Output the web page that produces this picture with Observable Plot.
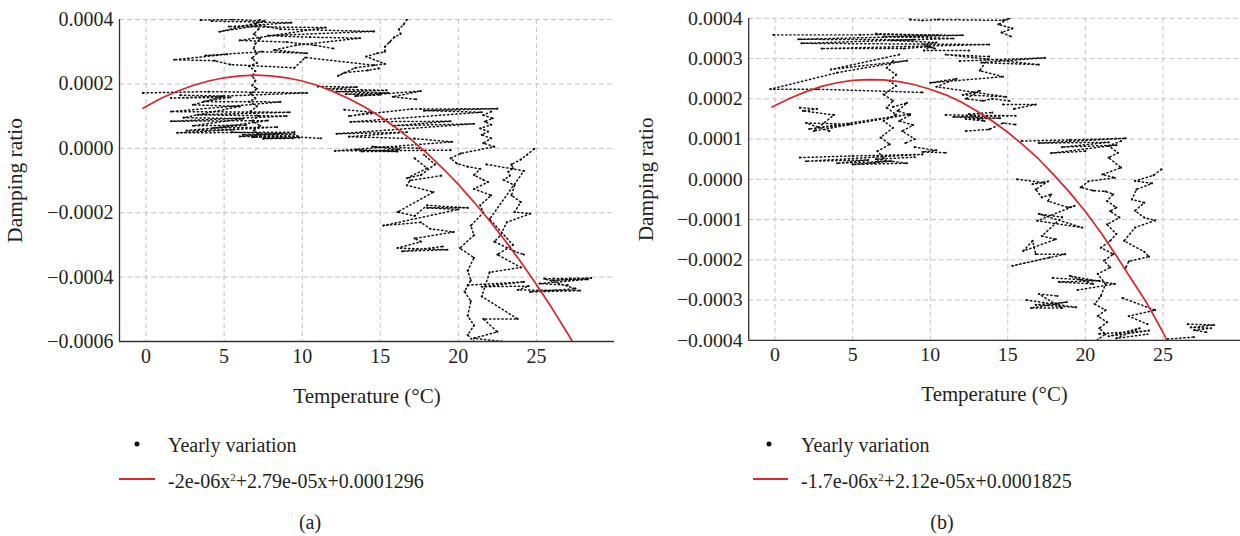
<!DOCTYPE html>
<html><head><meta charset="utf-8">
<script src="https://cdn.jsdelivr.net/npm/d3@7"></script>
<script src="https://cdn.jsdelivr.net/npm/@observablehq/plot@0.6"></script>
<style>
html,body{margin:0;padding:0;background:#fff;overflow:hidden;width:1240px;height:536px}
#wrap{position:relative;width:1240px;height:536px;font-family:"Liberation Serif","DejaVu Serif",serif;color:#231f20;overflow:hidden}
.panel{position:absolute;top:0}
.panel svg text{font-family:"Liberation Serif","DejaVu Serif",serif !important}
.leg{position:absolute;font-size:20px;white-space:nowrap;line-height:20px;transform:translateY(-50%)}
.leg sup{font-size:11px;vertical-align:7px;line-height:0}
.ldot{position:absolute;width:5px;height:5px;border-radius:50%;background:#111;transform:translate(-50%,-50%)}
.lline{position:absolute;height:2px;background:#e0262b;transform:translateY(-50%)}
.cap{position:absolute;font-size:20px;transform:translate(-50%,-50%);line-height:20px}
</style></head>
<body><div id="wrap">
<div id="pa" class="panel" style="left:0"></div>
<div id="pb" class="panel" style="left:620px"></div>
<div class="ldot" style="left:137px;top:444px"></div>
<div class="leg" style="left:168px;top:445px">Yearly variation</div>
<div class="lline" style="left:119px;top:479px;width:36px"></div>
<div class="leg" style="left:168px;top:481px">-2e-06x<sup>2</sup>+2.79e-05x+0.0001296</div>
<div class="cap" style="left:310px;top:522px">(a)</div>
<div class="ldot" style="left:769px;top:444px"></div>
<div class="leg" style="left:801px;top:445px">Yearly variation</div>
<div class="lline" style="left:753px;top:479px;width:35px"></div>
<div class="leg" style="left:801px;top:481px">-1.7e-06x<sup>2</sup>+2.12e-05x+0.0001825</div>
<div class="cap" style="left:942px;top:522px">(b)</div>
</div>
<script>
// ---- shared axis data ----
const xTicks = [0, 5, 10, 15, 20, 25];
const xDomain = [-1.7, 30];
// y values are in units of 1e-4 (damping ratio)
const aYTicks = [-6, -4, -2, 0, 2, 4];
const bYTicks = [-4, -3, -2, -1, 0, 1, 2, 3, 4];

// ---- panel (a): yearly variation traces [temperature °C, damping ratio ×1e-4] ----
const a1 = [[7.3,4.0],[7.0,3.85],[7.2,3.7],[6.9,3.55],[7.3,3.4],[7.0,3.25],[6.9,3.1],[7.1,2.95],[6.8,2.8],[7.1,2.65],[6.6,2.55],[7.0,2.4],[6.8,2.25],[7.0,2.1],[6.8,1.95],[7.1,1.85],[6.7,1.7],[7.0,1.55],[6.6,1.45],[7.1,1.3],[6.7,1.15],[7.2,1.0],[6.8,0.85],[7.3,0.7],[6.9,0.55],[7.2,0.45],[6.9,0.35]];
const a2 = [[3.5,3.98],[5.5,4.0],[7.6,3.95],[4.7,3.62],[7.3,3.82],[8.6,3.7],[14.6,3.63],[7.8,3.5],[10.5,3.45],[13.7,3.42],[9.6,3.2],[8.2,3.05],[10.3,2.95],[7.4,3.0],[3.8,2.88],[5.2,2.92],[1.8,2.75],[4.4,2.72],[5.4,2.6],[9.5,2.5],[10.2,2.82],[14.6,2.58]];
const a2b = [[4.2,3.95],[9.3,3.9],[5.3,3.78],[11.5,3.75],[6.0,3.35],[9.0,3.3],[10.8,3.2],[12.0,3.1]];
const a3 = [[16.7,4.0],[16.5,3.85],[16.2,3.7],[16.3,3.55],[15.9,3.45],[15.6,3.3],[15.3,3.15],[15.3,3.0],[14.8,2.95],[14.1,2.85],[15.3,2.62],[13.4,2.5],[12.3,2.25],[12.7,2.35],[14.2,2.42],[14.9,2.48]];
const a4 = [[11.0,1.92],[13.5,1.9],[11.6,1.84],[15.4,1.8],[12.2,1.76],[15.5,1.72],[12.8,1.68],[15.0,1.66],[13.4,1.62],[17.6,1.78],[15.8,1.6],[17.3,1.52]];
const a5 = [[-0.2,1.72],[4.0,1.76],[10.3,1.72],[1.6,1.56],[5.4,1.58],[3.7,1.45],[8.6,1.44],[1.6,1.14],[9.2,1.12],[3.3,1.04],[9.0,1.0],[1.6,0.84],[7.8,0.86],[4.3,0.63],[8.4,0.66],[2.0,0.48],[9.5,0.5],[6.0,0.37],[9.7,0.35],[11.2,0.31]];
const a5b = [[5.5,0.5],[9.5,0.44],[6.2,0.42],[9.7,0.38],[6.8,0.35],[9.4,0.31],[7.5,0.3],[9.8,0.33]];
const a5c = [[2.2,1.65],[5.0,1.62],[3.0,1.35],[6.0,1.3],[2.4,0.95],[6.2,0.92],[3.0,0.7],[6.4,0.72],[2.6,0.55],[5.6,0.58]];
const a6 = [[12.7,1.2],[14.5,1.12],[13.0,1.0],[17.0,1.22],[17.6,1.22],[22.5,1.23],[17.8,1.17],[21.5,1.12],[13.1,0.82],[19.5,0.84],[15.8,0.7],[21.0,0.76],[12.2,0.45],[16.7,0.5],[13.0,0.36],[17.2,0.3],[19.6,0.2],[12.1,-0.08],[19.5,-0.06]];
const a6b = [[13.5,-0.04],[16.1,-0.1],[13.8,-0.1],[16.2,-0.03],[14.5,0.05],[17.5,0.0]];
const a7 = [[22.1,1.14],[21.6,1.03],[22.2,0.93],[21.7,0.83],[22.1,0.73],[21.4,0.62],[21.9,0.52],[21.5,0.42],[22.1,0.31],[21.6,0.16],[22.3,0.05],[20.15,-0.16],[19.5,-0.31],[19.9,-0.47],[20.6,-0.57],[21.4,-0.64],[21.0,-0.83],[21.6,-0.98],[21.9,-1.05],[21.0,-1.26],[22.1,-1.46],[21.4,-1.77],[21.6,-2.0],[20.8,-2.4],[21.0,-2.7],[20.1,-3.1],[21.0,-3.4],[20.6,-3.8],[20.8,-4.1],[20.4,-4.45],[20.8,-4.75],[20.6,-5.2],[21.0,-5.5],[20.6,-5.8],[21.0,-6.0]];
const a8 = [[24.85,-0.02],[24.4,-0.2],[24.0,-0.35],[23.4,-0.5],[23.5,-0.62],[23.2,-0.73],[23.3,-0.85],[22.9,-0.98],[23.6,-1.15],[23.4,-1.46],[24.0,-1.67],[23.6,-1.98],[24.6,-2.03],[23.1,-2.3],[22.7,-2.7],[22.3,-2.9],[23.6,-3.2],[24.2,-3.3]];
const a9 = [[20.6,-4.25],[24.2,-4.15],[21.5,-4.3],[24.5,-4.28],[23.8,-4.4],[27.8,-4.42],[24.6,-4.46],[27.5,-4.36],[25.5,-4.05],[28.5,-4.03],[26.0,-4.1],[28.3,-4.07],[25.2,-4.2],[27.0,-4.25]];
const a10 = [[18.9,-0.85],[16.9,-1.0],[16.7,-1.15],[18.4,-1.36],[16.1,-1.98],[17.2,-2.1],[18.0,-1.77],[20.6,-1.85],[18.0,-1.85],[20.0,-1.9],[15.2,-2.4],[17.6,-2.3],[18.2,-2.5],[19.7,-2.6],[17.2,-2.8],[17.6,-2.9],[16.1,-3.1],[19.3,-3.15],[16.4,-3.2],[19.0,-3.05]];
const a11 = [[21.8,-0.5],[24.2,-0.7],[22.0,-2.2],[23.5,-3.0],[22.5,-3.3],[24.0,-3.7],[22.0,-3.85],[21.5,-4.6],[23.8,-5.3],[21.6,-5.3],[22.5,-5.7],[21.0,-5.9],[22.8,-6.0]];
const a12 = [[17.2,-0.31],[18.0,-0.62],[16.7,-0.93],[17.6,-0.83],[18.5,-0.5],[17.8,-0.2]];
const aTraces = [a1, a2, a2b, a3, a4, a5, a5b, a5c, a6, a6b, a7, a8, a9, a10, a11, a12];
// fitted curve (a): -2e-06x²+2.79e-05x+0.0001296
const aFit = [[-0.2,1.24],[0,1.3],[1,1.56],[2,1.77],[3,1.95],[4,2.09],[5,2.19],[6,2.25],[7,2.27],[8,2.25],[9,2.19],[10,2.09],[11,1.95],[12,1.76],[13,1.54],[14,1.28],[15,0.98],[16,0.64],[17,0.26],[18,-0.16],[19,-0.62],[20,-1.12],[21,-1.67],[22,-2.25],[23,-2.87],[24,-3.53],[25,-4.23],[26,-4.97],[27,-5.75],[27.3,-6.0]];

// ---- panel (b) ----
const b1 = [[8.7,3.97],[9.5,3.95],[10.5,3.97],[14.7,3.95],[15.1,4.0],[14.4,3.85],[15.3,3.75],[14.6,3.65],[15.2,3.55]];
const b2 = [[-0.1,3.59],[5.5,3.59],[6.6,3.6],[12.1,3.58],[1.5,3.48],[8.9,3.47],[1.7,3.38],[13.8,3.35],[3.0,3.25],[8.3,3.25],[10.0,3.3],[9.6,3.2],[12.5,3.2]];
const b2b = [[6.5,3.62],[10.5,3.58],[7.0,3.55],[11.5,3.5],[7.5,3.45],[10.4,3.4],[9.6,3.35],[10.3,3.25],[9.8,3.3]];
const b3 = [[8.0,3.1],[3.6,2.73],[8.5,2.95],[4.0,2.65],[-0.3,2.24],[2.7,2.24],[9.5,2.16]];
const b4 = [[7.6,2.94],[7.2,2.77],[7.8,2.6],[7.4,2.44],[7.8,2.32],[7.0,2.11],[7.6,1.95],[7.2,1.78],[7.8,1.61],[7.0,1.45],[7.6,1.28],[6.8,1.04],[7.4,0.87],[6.6,0.7],[7.0,0.53],[6.4,0.41]];
const b4b = [[7.6,1.8],[8.5,1.9],[7.9,1.7],[8.7,1.6],[8.0,1.45],[8.9,1.35],[8.2,1.2],[9.0,1.0],[8.4,0.9]];
const b5 = [[1.6,1.78],[2.7,1.75],[1.8,1.7],[3.8,1.6],[2.5,1.2],[8.7,1.62],[2.2,1.25],[4.8,1.37],[2.0,1.4],[3.5,1.2]];
const b6 = [[1.6,0.54],[5.0,0.58],[9.5,0.62],[2.0,0.45],[6.0,0.48],[4.0,0.4],[7.5,0.45],[5.0,0.37],[8.5,0.4],[6.5,0.5],[9.0,0.55]];
const b7 = [[9.0,0.8],[10.4,0.72],[9.5,0.68],[11.0,0.66]];
const b8 = [[11.9,2.94],[17.4,3.02],[13.3,2.9],[17.0,2.85],[11.0,3.1],[13.8,3.05],[13.2,2.7],[14.7,2.55],[10.0,2.4],[11.7,2.5],[10.4,2.3],[14.9,2.05],[12.1,2.1],[13.2,2.2],[12.3,2.0],[13.4,1.95],[14.0,2.0],[15.1,1.95]];
const b9 = [[14.7,1.86],[16.8,1.86],[15.4,1.75]];
const b10 = [[11.0,1.6],[15.5,1.58],[11.5,1.55],[14.5,1.52],[12.3,1.5],[13.5,1.45],[12.5,1.62],[14.0,1.66]];
const b11 = [[12.3,1.2],[13.8,1.24],[14.7,1.4],[15.5,1.36]];
const b12 = [[15.9,0.95],[19.0,0.98],[22.6,1.02],[17.0,0.9],[21.5,0.92],[18.5,0.8],[22.0,0.85],[17.8,0.65],[20.0,0.7]];
const b13 = [[22.3,0.95],[21.5,0.83],[22.1,0.66],[21.5,0.54],[22.3,0.29],[21.1,0.12],[21.9,0.04],[20.2,-0.05],[19.7,-0.2],[20.5,-0.28],[21.3,-0.3],[21.8,-0.37],[21.4,-0.54],[22.0,-0.7],[21.6,-0.79],[22.2,-0.95],[21.4,-1.12],[22.0,-1.36],[21.6,-1.53],[21.0,-1.7],[21.8,-1.86],[21.2,-2.02],[21.6,-2.19],[20.8,-2.35],[21.3,-2.6],[21.0,-2.9],[20.6,-3.1],[21.3,-3.25],[20.8,-3.4],[21.4,-3.55],[20.9,-3.7],[21.3,-3.85],[20.8,-3.98]];
const b14 = [[24.9,0.25],[24.4,0.1],[23.2,-0.04],[24.3,-0.1],[23.3,-0.25],[23.0,-0.5],[23.8,-0.58],[23.2,-0.78],[23.8,-0.95],[24.5,-1.02],[23.2,-1.2],[22.5,-1.53],[23.8,-1.8],[24.1,-1.92],[22.8,-2.04],[22.6,-2.2]];
const b15 = [[15.6,0.0],[17.3,-0.08],[16.6,-0.12],[17.6,-0.05],[16.8,-0.25],[17.2,-0.45],[17.8,-0.37],[17.6,-0.54],[18.9,-0.7],[19.3,-0.66],[16.9,-1.03],[19.8,-1.2],[17.0,-0.86],[18.5,-0.94],[17.2,-1.41],[18.1,-1.49],[16.0,-1.78],[16.6,-1.53],[16.8,-1.86],[18.7,-1.86],[15.3,-2.15],[17.7,-1.94]];
const b16 = [[17.9,-2.45],[20.9,-2.52],[18.3,-2.55],[20.5,-2.6],[19.0,-2.4],[21.9,-2.6],[19.5,-2.75]];
const b17 = [[16.2,-3.0],[19.4,-3.18],[16.8,-3.12],[18.8,-3.05],[16.5,-3.2],[18.5,-3.2],[17.0,-2.85],[18.2,-2.9]];
const b18 = [[22.4,-2.95],[24.5,-3.25],[22.8,-3.4],[24.0,-3.6]];
const b19 = [[20.9,-3.84],[24.1,-3.76],[21.5,-3.9],[23.5,-3.7],[22.0,-3.95],[24.0,-3.85]];
const b20 = [[26.6,-3.6],[28.3,-3.62],[26.8,-3.68],[28.1,-3.7],[27.0,-3.75],[27.8,-3.8]];
const b21 = [[25.3,-3.97],[27.0,-3.92]];
const bTraces = [b1, b2, b2b, b3, b4, b4b, b5, b6, b7, b8, b9, b10, b11, b12, b13, b14, b15, b16, b17, b18, b19, b20, b21];
// fitted curve (b): -1.7e-06x²+2.12e-05x+0.0001825
const bFit = [[-0.2,1.8],[1,2.02],[2,2.18],[3,2.31],[4,2.4],[5,2.46],[6,2.48],[7,2.47],[8,2.43],[9,2.35],[10,2.24],[11,2.1],[12,1.92],[13,1.7],[14,1.45],[15,1.17],[16,0.85],[17,0.5],[18,0.1],[19,-0.33],[20,-0.8],[21,-1.32],[22,-1.9],[23,-2.5],[24,-3.1],[25,-3.8],[25.25,-4.0]];

const U = 1e-4;
const FONT = '"Liberation Serif","DejaVu Serif",serif';
const fmt = d3.format(".4f");

function panel({traces, fit, yTicks, width, marginLeft, marginRight, marginTop, height, marginBottom, yLabelOffset}) {
  const pts = [];
  traces.forEach((t, i) => t.forEach(([x, y]) => pts.push({x, y: y * U, s: i})));
  const fitRows = fit.map(([x, y]) => ({x, y: y * U}));
  const yMin = yTicks[0] * U, yMax = yTicks[yTicks.length - 1] * U;
  const yt = yTicks.map(v => v * U);
  return Plot.plot({
    width, height, marginLeft, marginRight, marginTop, marginBottom,
    style: {fontFamily: FONT, fontSize: "20px", color: "#231f20", background: "transparent", overflow: "visible"},
    x: {domain: xDomain},
    y: {domain: [yMin, yMax]},
    marks: [
      Plot.gridX(xTicks, {stroke: "#c4c4c4", strokeOpacity: 1, strokeDasharray: "5,3"}),
      Plot.gridY(yt, {stroke: "#c4c4c4", strokeOpacity: 1, strokeDasharray: "5,3"}),
      Plot.axisX(xTicks, {tickSize: 0, tickPadding: 7, fontSize: 20, fontFamily: FONT, label: null}),
      Plot.axisX(xTicks, {tickSize: 0, text: null, fontSize: 21, fontFamily: FONT, label: "Temperature (°C)", labelAnchor: "center", labelOffset: 61, labelArrow: "none"}),
      Plot.axisY(yt, {tickSize: 0, tickPadding: 6, fontSize: 20, fontFamily: FONT, tickFormat: fmt, label: null}),
      Plot.axisY(yt, {tickSize: 0, text: null, fontSize: 21.5, fontFamily: FONT, label: "Damping ratio", labelAnchor: "center", labelOffset: yLabelOffset, labelArrow: "none"}),
      Plot.line(pts, {x: "x", y: "y", z: "s", stroke: "#111", strokeWidth: 1.5, strokeDasharray: "1.3,2.8", clip: true}),
      Plot.dot(pts, {x: "x", y: "y", r: 1.1, fill: "#111", clip: true}),
      Plot.line(fitRows, {x: "x", y: "y", stroke: "#d8262b", strokeWidth: 1.7, clip: true}),
      Plot.ruleX([xDomain[0]], {stroke: "#333", strokeWidth: 1.3}),
      Plot.ruleY([yMin], {stroke: "#333", strokeWidth: 1.3})
    ]
  });
}

document.getElementById("pa").append(panel({traces: aTraces, fit: aFit, yTicks: aYTicks, width: 620, marginLeft: 119, marginRight: 6, marginTop: 19, height: 410, marginBottom: 69, yLabelOffset: 113}));
document.getElementById("pb").append(panel({traces: bTraces, fit: bFit, yTicks: bYTicks, width: 624, marginLeft: 129, marginRight: 0, marginTop: 18, height: 410, marginBottom: 68, yLabelOffset: 112}));
</script>
</body></html>
